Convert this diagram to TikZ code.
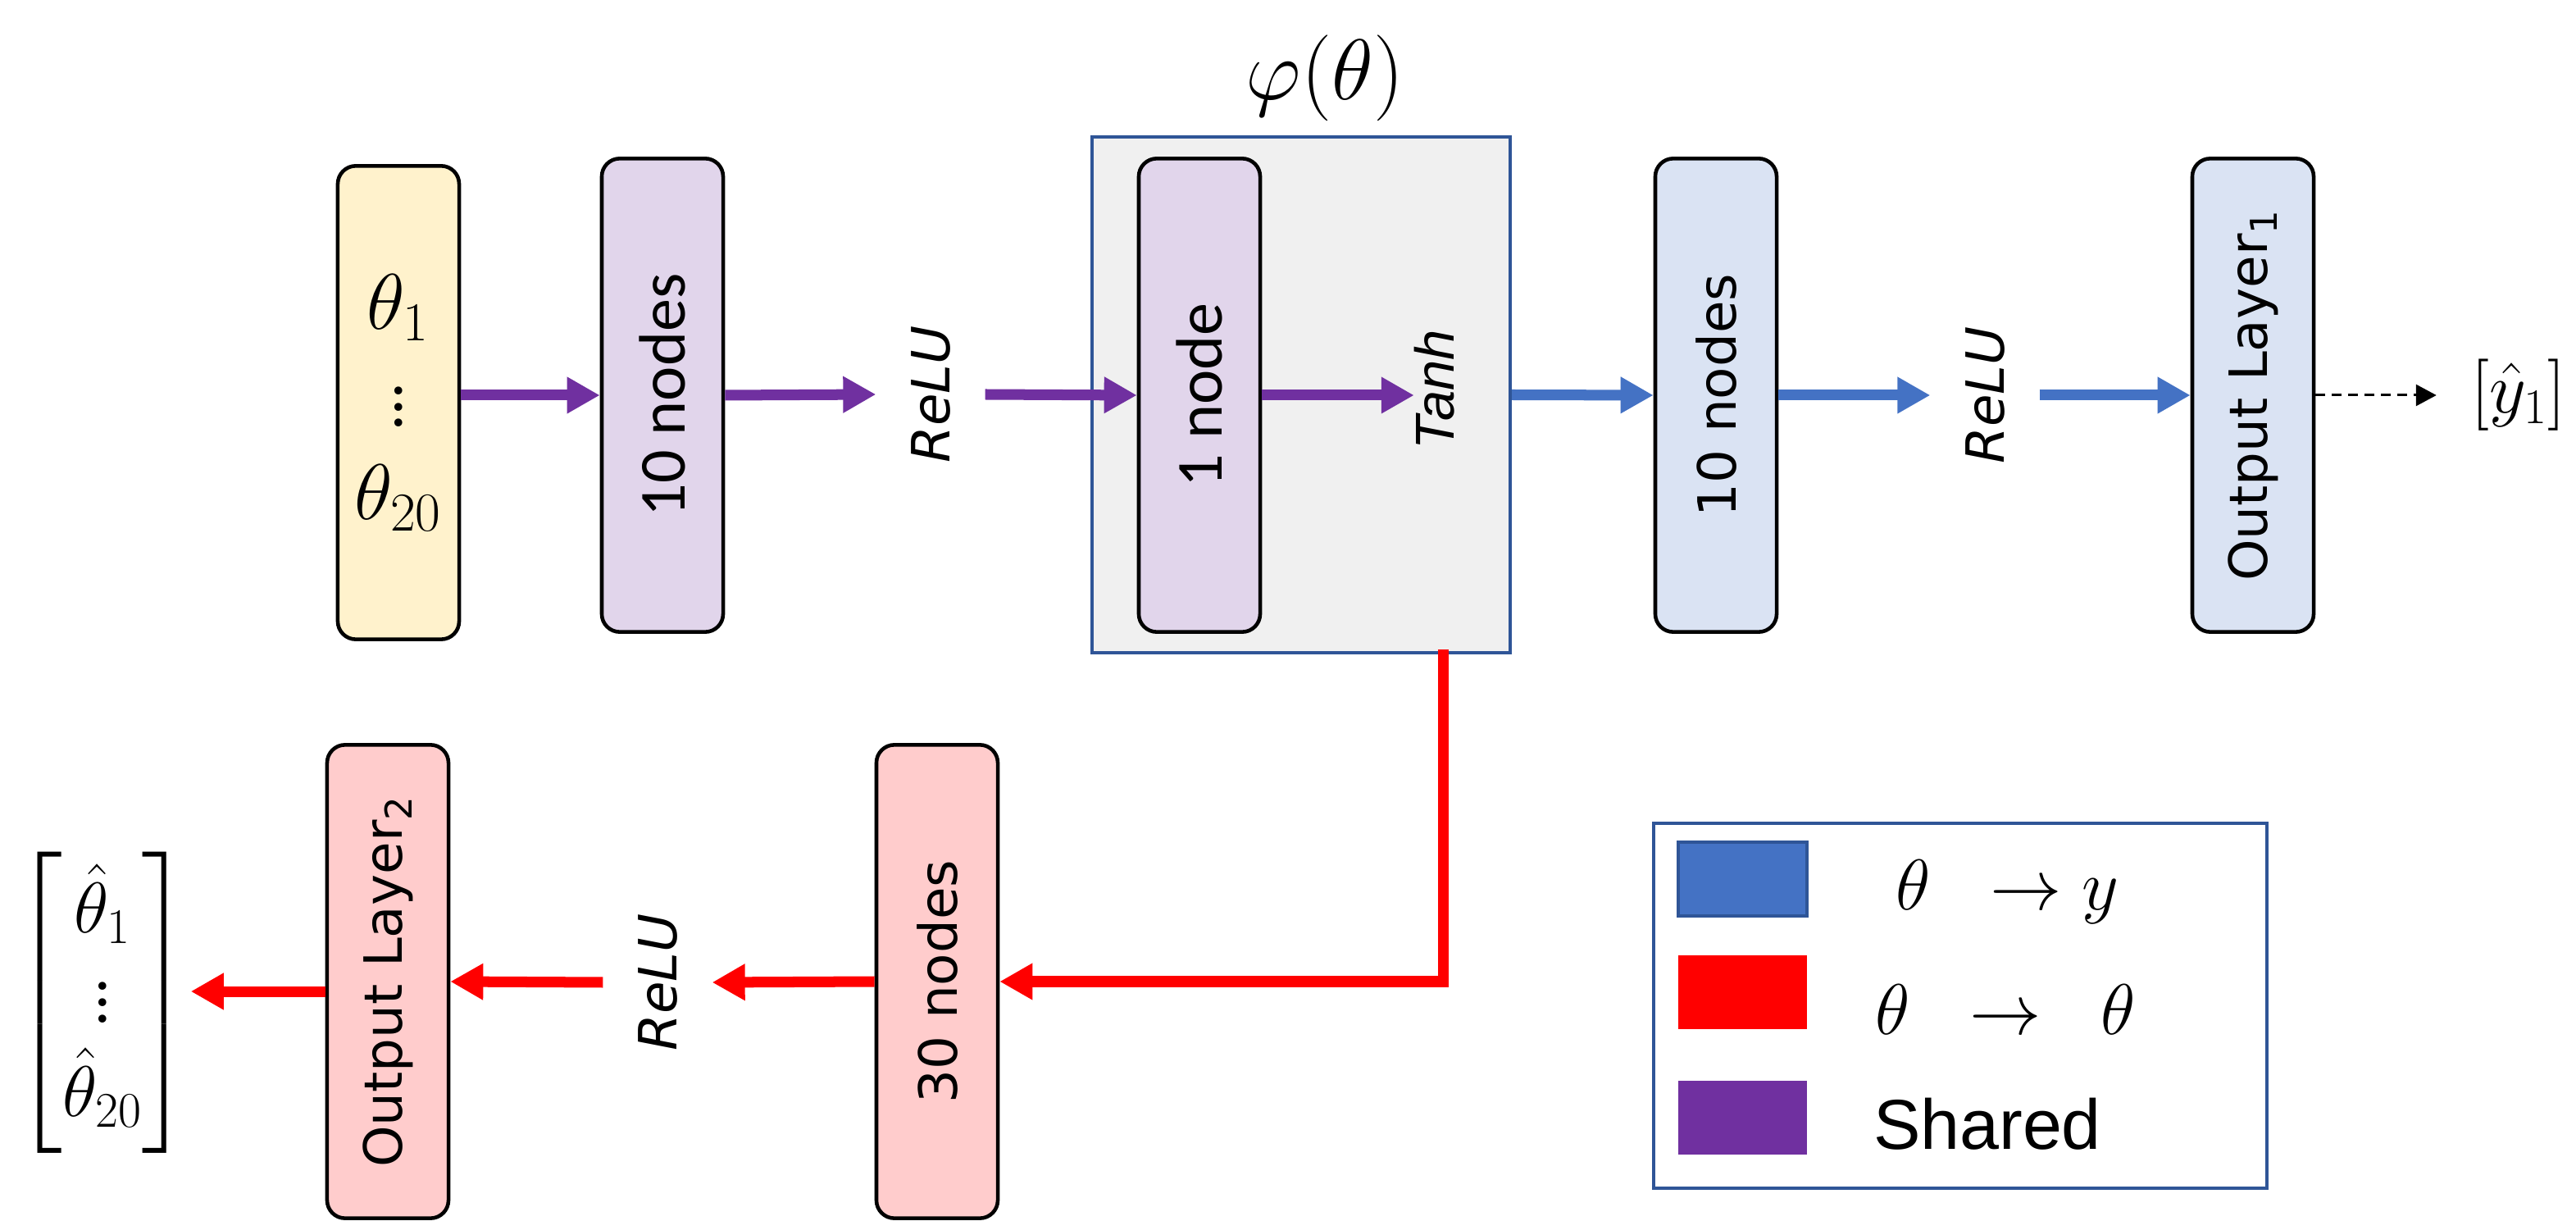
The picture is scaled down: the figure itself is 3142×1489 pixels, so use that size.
\documentclass[tikz,border=0pt]{standalone}
\usepackage{amsmath}
\usepackage{fontspec}
\usepackage{graphicx}
\usetikzlibrary{arrows.meta, positioning, calc}

\newfontfamily\calibri{Carlito}
\newfontfamily\verd{DejaVu Sans}
\newfontfamily\arialf{Liberation Sans}

\definecolor{sharedpurple}{HTML}{7030A0}
\definecolor{ypathblue}{HTML}{4472C4}
\definecolor{thpathred}{HTML}{FF0000}
\definecolor{frameblue}{HTML}{2F5597}
\definecolor{inyellow}{HTML}{FFF2CC}
\definecolor{lilac}{HTML}{E1D5EB}
\definecolor{paleblue}{HTML}{DAE3F3}
\definecolor{palered}{HTML}{FFCCCC}
\definecolor{phigray}{HTML}{F0F0F0}

\begin{document}
\begin{tikzpicture}[
  x=0.01cm, y=-0.01cm,
  layer/.style={draw=black, line width=1.3pt, rounded corners=0.22cm, minimum width=1.48cm, minimum height=5.77cm, inner sep=0pt, align=center},
  cal/.style={font=\calibri\fontsize{22.8}{27}\selectfont},
  ver/.style={font=\verd\fontsize{18.3}{22}\selectfont},
  act/.style={font=\verd\itshape\fontsize{18.3}{22}\selectfont, inner xsep=0.42cm, inner ysep=0pt},
  flow/.style={line width=0.13cm, -{Triangle[width=0.42cm, length=0.4cm]}},
  shared/.style={flow, sharedpurple},
  ypath/.style={flow, ypathblue},
  thpath/.style={flow, thpathred},
  key/.style={minimum width=1.57cm, minimum height=0.9cm, inner sep=0pt}
]
\useasboundingbox (0,0) rectangle (3142,1489);

% Shared encoder
\node[font=\fontsize{24}{28}\selectfont] (philab) at (1616,95) {\scalebox{1.2}{$\varphi(\theta)$}};
\node[draw=frameblue, line width=0.04cm, fill=phigray, minimum width=5.1cm, minimum height=6.29cm, inner sep=0pt] (phi) at (1587,481.5) {};
\node[layer, fill=inyellow, font=\fontsize{24}{28}\selectfont] (inp) at (486,491) {\scalebox{1.1}{$\theta_1$}\\[6pt]\scalebox{1.4}{$\vdots$}\\[4pt]\scalebox{1.1}{$\theta_{20}$}};
\node[layer, fill=lilac, cal] (hidA) at (808,482) {\rotatebox{90}{10 nodes}};
\node[act] (reluA) at (1135,481) {\rotatebox{90}{ReLU}};
\node[layer, fill=lilac, cal] (one) at (1463,482) {\rotatebox{90}{1 node}};
\node[act, font=\arialf\itshape\fontsize{19}{22}\selectfont, inner xsep=0pt] (tanh) at (1750,475) {\rotatebox{90}{Tanh}};

% Branch theta -> y
\node[layer, fill=paleblue, ver] (hidB) at (2093,482) {\rotatebox{90}{10 nodes}};
\node[act] (reluB) at (2421,482) {\rotatebox{90}{ReLU}};
\node[layer, fill=paleblue, ver] (out1) at (2748,482) {\rotatebox{90}{Output Layer\textsubscript{1}}};
\node[font=\fontsize{24}{28}\selectfont, inner xsep=0.42cm] (yhat) at (3072,482) {$[\hat{y}_1]$};

% Branch theta -> theta
\node[layer, fill=palered, ver] (hidC) at (1143,1197) {\rotatebox{90}{30 nodes}};
\node[act] (reluC) at (802,1198) {\rotatebox{90}{ReLU}};
\node[layer, fill=palered, ver] (out2) at (473,1197) {\rotatebox{90}{Output Layer\textsubscript{2}}};
\node[font=\fontsize{24}{29}\selectfont, inner sep=0pt] (thhat) at (125,1223) {$\begin{bmatrix}\hat{\theta}_1\\ \scalebox{1.4}{$\vdots$}\\ \hat{\theta}_{20}\end{bmatrix}$};

% Arrows
\draw[shared] (inp.east |- hidA.west) -- (hidA.west);
\draw[shared] (hidA.east) -- (reluA.west);
\draw[shared] (reluA.east) -- (one.west);
\draw[shared] (one.east) -- (one.east -| tanh.west);
\draw[ypath] (phi.east) -- (hidB.west);
\draw[ypath] (hidB.east) -- (reluB.west);
\draw[ypath] (reluB.east) -- (out1.west);
\draw[line width=0.03cm, dash pattern=on 0.12cm off 0.08cm, -{Triangle[width=0.26cm, length=0.25cm]}] (out1.east) -- (yhat.west);
\coordinate (tap) at ([xshift=1.73cm, yshift=0.06cm]phi.south);
\draw[thpath] (tap) |- (hidC.east);
\draw[thpath] (hidC.west) -- (reluC.east);
\draw[thpath] (reluC.west) -- (out2.east);
\draw[thpath] ([yshift=-0.12cm]out2.west) -- ([yshift=-0.12cm]out2.west -| thhat.east);

% Legend
\node[draw=frameblue, line width=0.04cm, minimum width=7.48cm, minimum height=4.45cm, inner sep=0pt] (legend) at (2391,1226.5) {};
\node[key, draw=frameblue, line width=0.04cm, fill=ypathblue] (keyY) at (2125.5,1072) {};
\node[key, fill=thpathred] (keyT) at (2125.5,1210) {};
\node[key, fill=sharedpurple] (keyS) at (2125.5,1363) {};
\node[font=\fontsize{24}{28}\selectfont] (keyYtxt) at (2448,1088) {$\theta\;\;\rightarrow y$};
\node[font=\fontsize{24}{28}\selectfont] (keyTtxt) at (2446,1231) {$\theta\;\;\rightarrow\;\;\theta$};
\node[font=\arialf\fontsize{24.5}{28}\selectfont] (keyStxt) at (2424,1371) {Shared};

\end{tikzpicture}
\end{document}
